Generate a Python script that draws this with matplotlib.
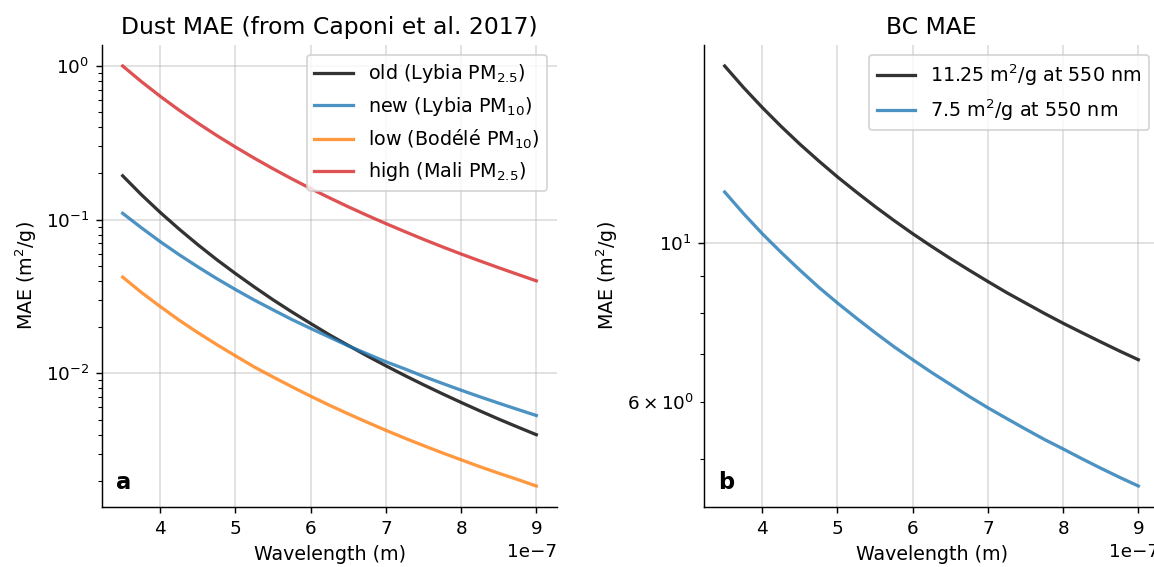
import matplotlib
matplotlib.use("Agg")
import matplotlib.pyplot as plt

# Wavelengths (nm)
wavelength_nm = [350, 375, 400, 425, 450, 475, 500, 525, 550, 575, 600, 625,
                 650, 675, 700, 725, 750, 775, 800, 825, 850, 875, 900]

# Dust MAE (m2/g)
dust_old = [0.193, 0.1452, 0.1114, 0.0869, 0.0687, 0.0550, 0.0446, 0.0365,
            0.0301, 0.0251, 0.0211, 0.0178, 0.0152, 0.0130, 0.0112, 0.00969,
            0.00843, 0.00737, 0.00647, 0.00570, 0.00504, 0.00448, 0.00399]
dust_new = [0.110, 0.0885, 0.0719, 0.0592, 0.0493, 0.0414, 0.0351, 0.0300,
            0.0259, 0.0224, 0.0196, 0.0172, 0.0151, 0.0134, 0.0119, 0.0107,
            0.00956, 0.00861, 0.00777, 0.00704, 0.00640, 0.00583, 0.00532]
dust_low = [0.0423, 0.0336, 0.0272, 0.0222, 0.0184, 0.0154, 0.0130, 0.0110,
            0.00947, 0.00818, 0.00710, 0.00620, 0.00545, 0.00481, 0.00426,
            0.00379, 0.00339, 0.00304, 0.00274, 0.00247, 0.00224, 0.00204,
            0.00185]
dust_high = [1.0, 0.7905, 0.6346, 0.5161, 0.4247, 0.3533, 0.2968, 0.2513,
             0.2144, 0.1843, 0.1594, 0.1387, 0.1213, 0.1067, 0.0943, 0.0837,
             0.0745, 0.0666, 0.0598, 0.0539, 0.0487, 0.0441, 0.0400]

# BC MAE (m2/g)
bc_high = [17.68, 16.50, 15.47, 14.56, 13.75, 13.03, 12.375, 11.79, 11.25,
           10.76, 10.31, 9.90, 9.52, 9.17, 8.84, 8.53, 8.25, 7.98, 7.73,
           7.50, 7.28, 7.07, 6.875]
bc_low = [11.79, 11.0, 10.31, 9.71, 9.17, 8.68, 8.25, 7.86, 7.5, 7.17, 6.875,
          6.6, 6.35, 6.11, 5.89, 5.69, 5.5, 5.32, 5.16, 5.0, 4.85, 4.71, 4.58]

dust_labels = [r"old (Lybia PM$_{2.5}$)", r"new (Lybia PM$_{10}$)",
               r"low (Bodélé PM$_{10}$)", r"high (Mali PM$_{2.5}$)"]
bc_labels = [r"11.25 m$^2$/g at 550 nm", r"7.5 m$^2$/g at 550 nm"]

wavelength = [w * 1e-9 for w in wavelength_nm]

W, H, DPI = 1154, 567, 130
plt.rcParams["font.size"] = 10.3
plt.rcParams["xtick.labelsize"] = 10.2
plt.rcParams["ytick.labelsize"] = 10.2
plt.rcParams["legend.fontsize"] = 10.6
fig = plt.figure(figsize=(W / DPI, H / DPI), dpi=DPI)

ax1 = fig.add_axes([102 / W, 60 / H, 455 / W, 462 / H])
ax2 = fig.add_axes([704 / W, 60 / H, 455 / W, 462 / H])

colors_d = ["k", "tab:blue", "tab:orange", "tab:red"]
for vals, lab, c in zip([dust_old, dust_new, dust_low, dust_high], dust_labels, colors_d):
    ax1.plot(wavelength, vals, color=c, alpha=0.8, lw=1.8, label=lab)
ax1.set_yscale("log")
ax1.set_title("Dust MAE (from Caponi et al. 2017)", fontsize=13)
ax1.set_xlabel("Wavelength (m)", fontsize=10.5)
ax1.set_ylabel(r"MAE (m$^2$/g)", fontsize=10.5)
ax1.legend(loc="upper right")
ax1.text(0.03, 0.04, "a", transform=ax1.transAxes, fontsize=12.5,
         fontweight="bold", va="baseline")

for vals, lab, c in zip([bc_high, bc_low], bc_labels, ["k", "tab:blue"]):
    ax2.plot(wavelength, vals, color=c, alpha=0.8, lw=1.8, label=lab)
ax2.set_yscale("log")
ax2.set_title("BC MAE", fontsize=13)
ax2.set_xlabel("Wavelength (m)", fontsize=10.5)
ax2.set_ylabel(r"MAE (m$^2$/g)", fontsize=10.5)
ax2.legend(loc="upper right")
ax2.text(0.03, 0.04, "b", transform=ax2.transAxes, fontsize=12.5,
         fontweight="bold", va="baseline")

for ax in (ax1, ax2):
    ax.grid(True, which="major", color="#b0b0b0", lw=1, alpha=0.4)
    ax.spines["top"].set_visible(False)
    ax.spines["right"].set_visible(False)
    ax.set_axisbelow(True)

fig.savefig("out.png", dpi=DPI)
